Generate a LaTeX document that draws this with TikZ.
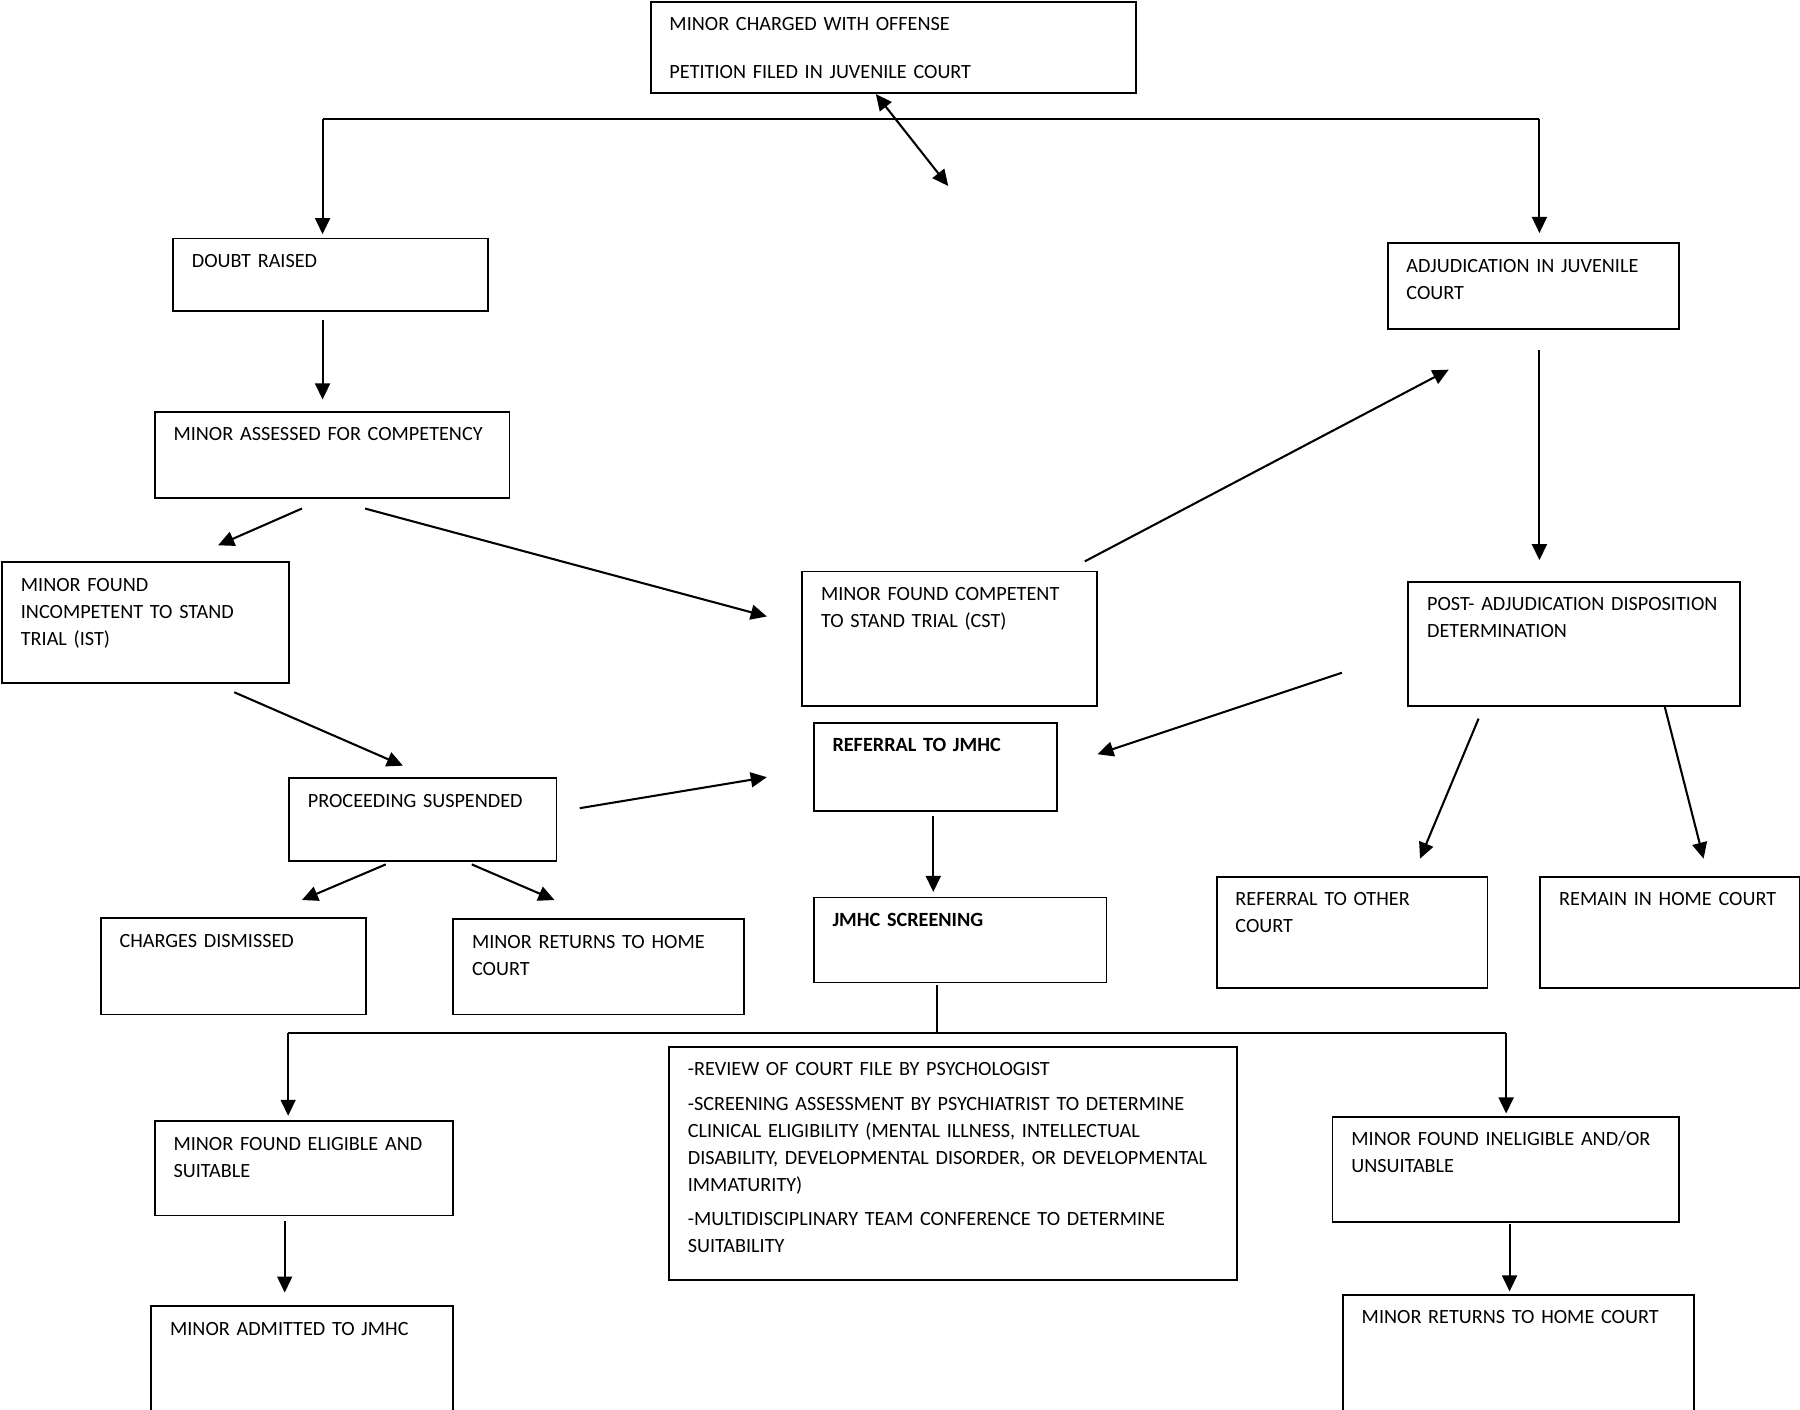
\documentclass[tikz,border=0pt]{standalone}
\usepackage{fontspec}
\setmainfont{Carlito}[WordSpace=0.8]
\usetikzlibrary{arrows.meta}
\tikzset{
 box/.style={draw, line width=1.6pt, rectangle, inner sep=0pt, anchor=north west},
 txt/.style={anchor=base west, inner sep=0pt, align=left, font=\fontsize{17.6}{23.5}\selectfont},
 arr/.style={line width=1.8pt, -{Triangle[length=14pt,width=13pt]}},
 darr/.style={line width=1.8pt, {Triangle[length=14pt,width=13pt]}-{Triangle[length=14pt,width=13pt]}},
 ln/.style={line width=1.8pt},
}
\newcommand\bx[6]{%
 \pgfmathsetlengthmacro\boxtw{#4-#2-20}%
 \node[box, minimum width=#4pt-#2pt, minimum height=#5pt-#3pt] (#1) at (#2,-#3) {};
 \node[txt, text width=\boxtw] (#1t) at (#2+17,-#3-26) {#6};}
\begin{document}
\begin{tikzpicture}[x=1pt,y=1pt]
\fill[white] (0,0) rectangle (1568,-1228);
\useasboundingbox (0,0) rectangle (1568,-1228);
\bx{top}{566}{1}{989}{80}{MINOR CHARGED WITH OFFENSE\\[17.5pt]PETITION FILED IN JUVENILE COURT}
\bx{doubt}{150}{207}{424}{270}{DOUBT RAISED}
\bx{adj}{1208}{211}{1462}{286}{ADJUDICATION IN JUVENILE\\COURT}
\bx{assess}{134}{358}{443}{433}{MINOR ASSESSED FOR COMPETENCY}
\bx{ist}{1}{489}{251}{594}{MINOR FOUND\\INCOMPETENT TO STAND\\TRIAL (IST)}
\bx{cst}{698}{497}{955}{614}{MINOR FOUND COMPETENT\\TO STAND TRIAL (CST)}
\bx{post}{1226}{506}{1515}{614}{POST- ADJUDICATION DISPOSITION\\DETERMINATION}
\bx{ref}{708}{629}{920}{706}{\textbf{REFERRAL TO JMHC}}
\bx{proc}{251}{677}{484}{749}{PROCEEDING SUSPENDED}
\bx{dism}{87}{799}{318}{883}{CHARGES DISMISSED}
\bx{home}{394}{800}{647}{883}{MINOR RETURNS TO HOME\\COURT}
\bx{scr}{708}{781}{963}{855}{\textbf{JMHC SCREENING}}
\bx{other}{1059}{763}{1295}{860}{REFERRAL TO OTHER\\COURT}
\bx{remain}{1341}{763}{1567}{860}{REMAIN IN HOME COURT}
\bx{detail}{582}{911}{1077}{1114}{-REVIEW OF COURT FILE BY PSYCHOLOGIST\\[6.5pt]-SCREENING ASSESSMENT BY PSYCHIATRIST TO DETERMINE\\CLINICAL ELIGIBILITY (MENTAL ILLNESS, INTELLECTUAL\\DISABILITY, DEVELOPMENTAL DISORDER, OR DEVELOPMENTAL\\IMMATURITY)\\[6.5pt]-MULTIDISCIPLINARY TEAM CONFERENCE TO DETERMINE\\SUITABILITY}
\bx{elig}{134}{976}{394}{1058}{MINOR FOUND ELIGIBLE AND\\SUITABLE}
\bx{inel}{1160}{972}{1462}{1064}{MINOR FOUND INELIGIBLE AND/OR\\UNSUITABLE}
\bx{admit}{131}{1137}{394}{1229}{MINOR ADMITTED TO JMHC}
\bx{home2}{1169}{1127}{1475}{1229}{MINOR RETURNS TO HOME COURT}
% coordinates
\coordinate (ht1) at (281,-104); \coordinate (ht2) at (1341,-104);
\coordinate (hd1) at (281,-204); \coordinate (hd2) at (1341,-203);
\coordinate (d1) at (763,-82); \coordinate (d2) at (826,-162);
\coordinate (a1) at (281,-279); \coordinate (a2) at (281,-348);
\coordinate (b1) at (263,-443); \coordinate (b2) at (190,-475);
\coordinate (c1) at (318,-443); \coordinate (c2) at (668,-537);
\coordinate (e1) at (945,-489); \coordinate (e2) at (1262,-322);
\coordinate (f1) at (1341,-305); \coordinate (f2) at (1341,-488);
\coordinate (g1) at (1169,-586); \coordinate (g2) at (956,-657);
\coordinate (i1) at (1288,-626); \coordinate (i2) at (1237,-748);
\coordinate (j1) at (1450,-615); \coordinate (j2) at (1484,-748);
\coordinate (k1) at (204,-603); \coordinate (k2) at (351,-667);
\coordinate (l1) at (505,-704); \coordinate (l2) at (668,-677);
\coordinate (m1) at (336,-753); \coordinate (m2) at (263,-784);
\coordinate (n1) at (411,-753); \coordinate (n2) at (483,-784);
\coordinate (o1) at (813,-711); \coordinate (o2) at (813,-777);
\coordinate (p1) at (816,-858); \coordinate (p2) at (816,-900);
\coordinate (p3) at (251,-900); \coordinate (p4) at (1312,-900);
\coordinate (p5) at (251,-972); \coordinate (p6) at (1312,-970);
\coordinate (q1) at (248,-1064); \coordinate (q2) at (248,-1126);
\coordinate (r1) at (1315,-1066); \coordinate (r2) at (1315,-1125);
% connectors
\draw[ln] (ht1) -- (ht2);
\draw[arr] (ht1) -- (hd1);
\draw[arr] (ht2) -- (hd2);
\draw[darr] (d1) -- (d2);
\draw[arr] (a1) -- (a2);
\draw[arr] (b1) -- (b2);
\draw[arr] (c1) -- (c2);
\draw[arr] (e1) -- (e2);
\draw[arr] (f1) -- (f2);
\draw[arr] (g1) -- (g2);
\draw[arr] (i1) -- (i2);
\draw[arr] (j1) -- (j2);
\draw[arr] (k1) -- (k2);
\draw[arr] (l1) -- (l2);
\draw[arr] (m1) -- (m2);
\draw[arr] (n1) -- (n2);
\draw[arr] (o1) -- (o2);
\draw[ln] (p1) -- (p2);
\draw[ln] (p3) -- (p4);
\draw[arr] (p3) -- (p5);
\draw[arr] (p4) -- (p6);
\draw[arr] (q1) -- (q2);
\draw[arr] (r1) -- (r2);
\end{tikzpicture}
\end{document}
